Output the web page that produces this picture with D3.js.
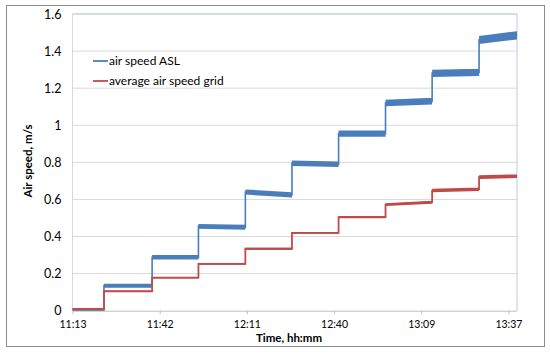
<!DOCTYPE html>
<html>
<head>
<meta charset="utf-8">
<script src="https://cdn.jsdelivr.net/npm/d3@7"></script>
<style>
  body { margin: 0; background: #fff; }
  text { font-family: Lato, "Open Sans", sans-serif; fill: #000; }
</style>
</head>
<body>
<script>
// plateau start times (last entry = end of record)
var stepTimes = ["11:13:50", "11:24:14", "11:40:08", "11:55:26", "12:10:56",
                 "12:26:20", "12:41:44", "12:57:14", "13:12:38", "13:28:08", "13:40:40"];

// air speed ASL: value at start / end of each plateau, and noise half-width
var blueStart  = [0.004, 0.135, 0.288, 0.455, 0.640, 0.795, 0.955, 1.120, 1.280, 1.460];
var blueEnd    = [0.004, 0.135, 0.288, 0.450, 0.625, 0.790, 0.955, 1.130, 1.285, 1.485];
var blueSpread = [0.003, 0.011, 0.012, 0.013, 0.014, 0.015, 0.017, 0.018, 0.020, 0.022];

// average air speed grid
var redStart  = [0.010, 0.105, 0.178, 0.252, 0.334, 0.420, 0.505, 0.572, 0.648, 0.720];
var redEnd    = [0.010, 0.105, 0.178, 0.252, 0.334, 0.420, 0.505, 0.585, 0.655, 0.725];
var redSpread = [0.003, 0.003, 0.004, 0.004, 0.005, 0.005, 0.006, 0.008, 0.009, 0.010];

var yTicks = [0, 0.2, 0.4, 0.6, 0.8, 1, 1.2, 1.4, 1.6];
var xTickTimes = ["11:13:50", "11:42:38", "12:11:26", "12:40:14", "13:09:02", "13:37:50"];

var seriesNames = ["air speed ASL", "average air speed grid"];
var seriesColors = ["#4a7ebb", "#be4b48"];

var width = 550, height = 353;
var plotLeft = 72.5, plotRight = 517, plotTop = 14, plotBottom = 310.7;

var parse = d3.timeParse("%H:%M:%S");
var fmt = d3.timeFormat("%H:%M");

var svg = d3.select("body").append("svg")
    .attr("width", width)
    .attr("height", height);

// chart border
svg.append("rect")
    .attr("x", 6.5).attr("y", 5.5)
    .attr("width", 538).attr("height", 341)
    .attr("fill", "#fff")
    .attr("stroke", "#8c8c8c")
    .attr("stroke-width", 1);

var x = d3.scaleTime()
    .domain([parse(stepTimes[0]), parse(stepTimes[stepTimes.length - 1])])
    .range([plotLeft, plotRight]);

var y = d3.scaleLinear()
    .domain([0, 1.6])
    .range([plotBottom, plotTop]);

// gridlines
svg.append("g").selectAll("line")
    .data(yTicks.slice(1))
    .enter().append("line")
    .attr("x1", plotLeft).attr("x2", plotRight)
    .attr("y1", function (d) { return y(d); })
    .attr("y2", function (d) { return y(d); })
    .attr("stroke", "#d9d9d9")
    .attr("stroke-width", 1);

// plot area frame (light blue, top and right)
svg.append("path")
    .attr("d", "M" + plotLeft + "," + plotTop + "H" + plotRight + "V" + plotBottom)
    .attr("fill", "none")
    .attr("stroke", "#b9cde5")
    .attr("stroke-width", 1);

// left axis line
svg.append("line")
    .attr("x1", plotLeft).attr("x2", plotLeft)
    .attr("y1", plotTop).attr("y2", plotBottom)
    .attr("stroke", "#d9d9d9");

// y axis
var yAxis = d3.axisLeft(y)
    .tickValues(yTicks)
    .tickSize(0)
    .tickPadding(11)
    .tickFormat(function (d) { return d3.format("")(d); });

var gy = svg.append("g")
    .attr("transform", "translate(" + plotLeft + ",0)")
    .call(yAxis);
gy.select(".domain").remove();
gy.selectAll("text")
    .style("font-size", "12.5px")
    .style("font-family", "Lato, sans-serif")
    .attr("fill", "#000");

// x axis
var xAxis = d3.axisBottom(x)
    .tickValues(xTickTimes.map(parse))
    .tickSize(3.5)
    .tickPadding(6)
    .tickFormat(fmt);

var gx = svg.append("g")
    .attr("transform", "translate(0," + plotBottom + ")")
    .call(xAxis);
gx.select(".domain")
    .attr("d", "M" + plotLeft + ",0.5H" + plotRight)
    .attr("stroke", "#bfbfbf");
gx.selectAll(".tick line").attr("stroke", "#bfbfbf");
gx.selectAll("text")
    .style("font-size", "10.5px")
    .style("font-family", "Lato, sans-serif")
    .attr("fill", "#000");

// build plateau points for a series
function buildPoints(starts, ends, spreads) {
    var pts = [];
    for (var i = 0; i < starts.length; i++) {
        pts.push({ t: parse(stepTimes[i]), v: starts[i], s: spreads[i] });
        pts.push({ t: parse(stepTimes[i + 1]), v: ends[i], s: spreads[i] });
    }
    return pts;
}

var series = [
    buildPoints(blueStart, blueEnd, blueSpread),
    buildPoints(redStart, redEnd, redSpread)
];

var area = d3.area()
    .x(function (d) { return x(d.t); })
    .y0(function (d) { return y(d.v - d.s); })
    .y1(function (d) { return y(d.v + d.s); });

var line = d3.line()
    .x(function (d) { return x(d.t); })
    .y(function (d) { return y(d.v); });

series.forEach(function (pts, k) {
    svg.append("path")
        .datum(pts)
        .attr("d", area)
        .attr("fill", seriesColors[k]);
    svg.append("path")
        .datum(pts)
        .attr("d", line)
        .attr("fill", "none")
        .attr("stroke", seriesColors[k])
        .attr("stroke-width", k === 0 ? 1.6 : 1.8);
});

// legend
var legend = svg.append("g").attr("transform", "translate(93,61)");
seriesNames.forEach(function (name, k) {
    var g = legend.append("g").attr("transform", "translate(0," + (k * 20) + ")");
    g.append("line")
        .attr("x1", 0).attr("x2", 15)
        .attr("y1", 0).attr("y2", 0)
        .attr("stroke", seriesColors[k])
        .attr("stroke-width", 1.8);
    g.append("text")
        .attr("x", 16)
        .attr("y", 0)
        .attr("dy", "0.35em")
        .style("font-size", "12px")
        .text(name);
});

// axis titles
svg.append("text")
    .attr("x", 289)
    .attr("y", 338)
    .attr("dy", "0.35em")
    .attr("text-anchor", "middle")
    .style("font-size", "11.5px")
    .style("font-weight", "bold")
    .text("Time, hh:mm");

svg.append("text")
    .attr("transform", "translate(28,161) rotate(-90)")
    .attr("dy", "0.35em")
    .attr("text-anchor", "middle")
    .style("font-size", "11.5px")
    .style("font-weight", "bold")
    .text("Air speed, m/s");
</script>
</body>
</html>
